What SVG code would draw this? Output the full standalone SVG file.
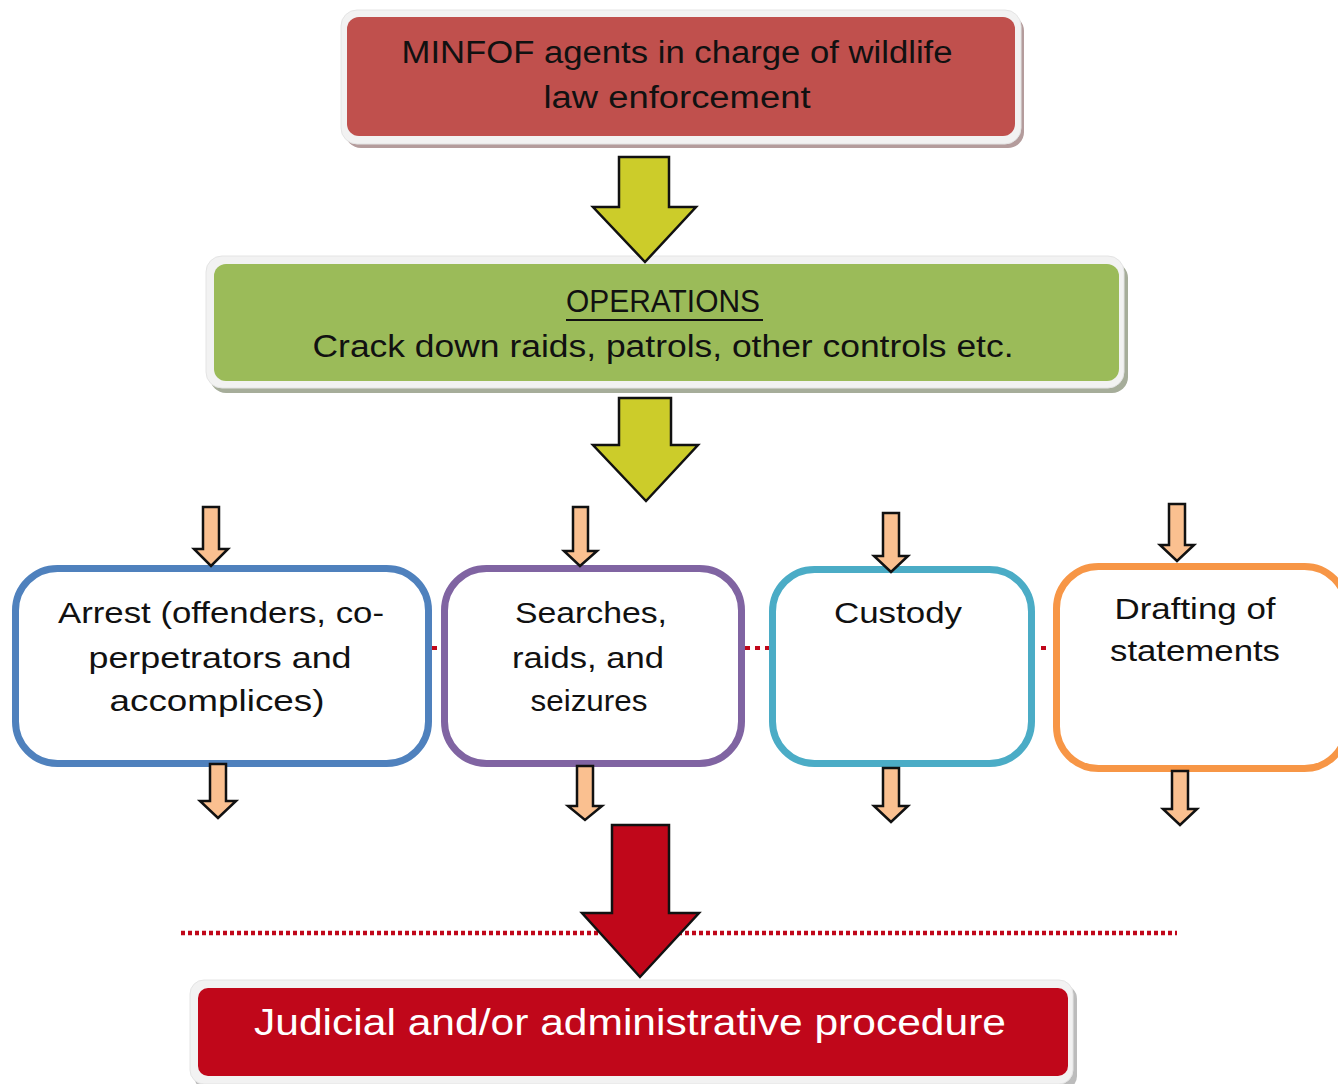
<svg xmlns="http://www.w3.org/2000/svg" width="1338" height="1084" viewBox="0 0 1338 1084">
<style>
text{font-family:"Liberation Sans","DejaVu Sans",sans-serif;}
.t{font-size:31px;fill:#111;text-anchor:middle;}
.b{font-size:30px;fill:#111;text-anchor:middle;}
.big{stroke:#111;stroke-width:2.5;stroke-linejoin:miter;}
.sm{fill:#FAC090;stroke:#111;stroke-width:2.5;}
.frame{fill:#f2f2f2;stroke:#e4e4e4;stroke-width:1;}
.box{fill:#fff;stroke-width:7;}
.dot{stroke:#C0071A;stroke-width:4;stroke-dasharray:5 5;}
</style>
<rect width="1338" height="1084" fill="#fff"/>

<g id="node-minfof">
  <rect x="345" y="15" width="679" height="133" rx="16" fill="#b49c9c"/>
  <rect class="frame" x="341" y="10" width="680" height="134" rx="16"/>
  <rect x="347" y="17" width="668" height="119" rx="12" fill="#C0504D"/>
  <text class="t" x="677" y="63" textLength="551" lengthAdjust="spacingAndGlyphs">MINFOF agents in charge of wildlife</text>
  <text class="t" x="677" y="108" textLength="267" lengthAdjust="spacingAndGlyphs">law enforcement</text>
</g>

<g id="node-operations">
  <rect x="210" y="262" width="918" height="131" rx="16" fill="#a6ad9a"/>
  <rect class="frame" x="206" y="256" width="918" height="132" rx="16"/>
  <rect x="214" y="264" width="905" height="117" rx="12" fill="#9BBB59"/>
  <text class="t" x="663" y="312" textLength="194" lengthAdjust="spacingAndGlyphs">OPERATIONS</text>
  <line x1="566" y1="320" x2="763" y2="320" stroke="#111" stroke-width="2"/>
  <text class="t" x="663" y="357" textLength="701" lengthAdjust="spacingAndGlyphs">Crack down raids, patrols, other controls etc.</text>
</g>

<g id="node-arrest">
  <rect class="box" x="15.5" y="568.5" width="413" height="195" rx="42" stroke="#4F81BD"/>
  <text class="b" x="221" y="623" textLength="326" lengthAdjust="spacingAndGlyphs">Arrest (offenders, co-</text>
  <text class="b" x="220" y="668" textLength="263" lengthAdjust="spacingAndGlyphs">perpetrators and</text>
  <text class="b" x="217" y="711" textLength="215" lengthAdjust="spacingAndGlyphs">accomplices)</text>
</g>

<g id="node-searches">
  <rect class="box" x="444.5" y="568.5" width="297" height="195" rx="42" stroke="#8064A2"/>
  <text class="b" x="591" y="623" textLength="152" lengthAdjust="spacingAndGlyphs">Searches,</text>
  <text class="b" x="588" y="668" textLength="152" lengthAdjust="spacingAndGlyphs">raids, and</text>
  <text class="b" x="589" y="711" textLength="117" lengthAdjust="spacingAndGlyphs">seizures</text>
</g>

<g id="node-custody">
  <rect class="box" x="772.5" y="569.5" width="259" height="194" rx="42" stroke="#4BACC6"/>
  <text class="b" x="898" y="623" textLength="128" lengthAdjust="spacingAndGlyphs">Custody</text>
</g>

<g id="node-drafting">
  <rect class="box" x="1056.5" y="566.5" width="290" height="202" rx="42" stroke="#F79646"/>
  <text class="b" x="1195" y="619" textLength="161" lengthAdjust="spacingAndGlyphs">Drafting of</text>
  <text class="b" x="1195" y="661" textLength="170" lengthAdjust="spacingAndGlyphs">statements</text>
</g>

<g id="node-judicial">
  <rect x="194" y="985" width="883" height="105" rx="14" fill="#bcbcbc"/>
  <rect class="frame" x="190" y="980" width="883" height="104" rx="14"/>
  <rect x="198" y="988" width="870" height="88" rx="10" fill="#C0071A"/>
  <text x="630" y="1035" font-size="37" fill="#fff" text-anchor="middle" textLength="752" lengthAdjust="spacingAndGlyphs">Judicial and/or administrative procedure</text>
</g>

<g id="connectors">
  <line class="dot" x1="432" y1="648" x2="441" y2="648"/>
  <line class="dot" x1="745" y1="648" x2="769" y2="648"/>
  <line class="dot" x1="1041" y1="648" x2="1047" y2="648"/>
  <line x1="181" y1="933" x2="1177" y2="933" stroke="#C0071A" stroke-width="4.5" stroke-dasharray="4 3"/>
  <polygon class="big" fill="#CCCC2A" points="619,157 669,157 669,207 696,207 645,262 593,207 619,207"/>
  <polygon class="big" fill="#CCCC2A" points="619,398 671,398 671,445 698,445 646,501 593,445 619,445"/>
  <polygon class="sm" points="203,507 219,507 219,549 228,549 211,566 194,549 203,549"/>
  <polygon class="sm" points="210,764 226,764 226,801 236,801 218,818 200,801 210,801"/>
  <polygon class="sm" points="573,507 588,507 588,551 597,551 580,566 564,551 573,551"/>
  <polygon class="sm" points="577,766 593,766 593,806 602,806 585,820 568,806 577,806"/>
  <polygon class="sm" points="883,513 899,513 899,556 908,556 891,572 874,556 883,556"/>
  <polygon class="sm" points="883,768 899,768 899,806 908,806 891,822 874,806 883,806"/>
  <polygon class="sm" points="1169,504 1185,504 1185,545 1194,545 1177,561 1160,545 1169,545"/>
  <polygon class="sm" points="1172,771 1188,771 1188,809 1197,809 1180,825 1163,809 1172,809"/>
  <polygon class="big" fill="#C0071A" points="612,825 669,825 669,913 699,913 640,977 582,913 612,913"/>
</g>
</svg>
